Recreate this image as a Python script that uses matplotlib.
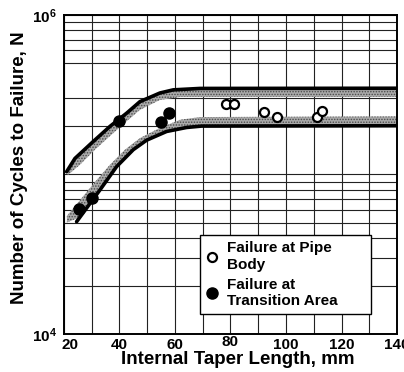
import matplotlib.pyplot as plt
from matplotlib.transforms import ScaledTranslation

plt.rcParams['font.family'] = ['Liberation Sans', 'DejaVu Sans']
plt.rcParams['font.weight'] = 'bold'
plt.rcParams['axes.labelweight'] = 'bold'
plt.rcParams['mathtext.default'] = 'regular'
plt.rcParams['hatch.linewidth'] = 0.7

# failure at pipe body (open circles)
pipe_x = [78.4, 81.4, 92.2, 96.9, 111.1, 113.1]
pipe_n = [2.75e5, 2.75e5, 2.48e5, 2.28e5, 2.30e5, 2.50e5]

# failure at transition area (filled circles)
trans_x = [25.4, 30.2, 39.9, 55.0, 57.8]
trans_n = [6.1e4, 7.1e4, 2.17e5, 2.12e5, 2.42e5]

# upper bound curve
upper_x = [21.0, 24.0, 30.6, 36.6, 42.6, 47.4, 54.6, 59.4, 69.0, 140]
upper_n = [1.04e5, 1.26e5, 1.61e5, 2.0e5, 2.42e5, 2.86e5, 3.24e5, 3.39e5, 3.46e5, 3.47e5]

# lower bound curve
lower_x = [24.6, 33.0, 39.0, 45.0, 49.8, 57.0, 64.2, 69.6, 140]
lower_n = [5.06e4, 8.0e4, 1.12e5, 1.43e5, 1.64e5, 1.86e5, 1.97e5, 2.01e5, 2.02e5]

# shaded scatter bands
uband_x = [21.4, 25.8, 31.2, 36.6, 42.7, 47.4, 54.6, 61.8, 140]
uband_lo = [9.9e4, 1.15e5, 1.43e5, 1.74e5, 2.16e5, 2.54e5, 2.93e5, 3.06e5, 3.06e5]
uband_hi = [1.06e5, 1.36e5, 1.65e5, 2.0e5, 2.43e5, 2.86e5, 3.24e5, 3.42e5, 3.47e5]

lband_x = [21.1, 25.8, 31.2, 36.6, 42.0, 47.4, 54.6, 61.8, 69.0, 140]
lband_lo = [5.0e4, 5.4e4, 7.2e4, 9.8e4, 1.26e5, 1.58e5, 1.80e5, 1.93e5, 2.01e5, 2.02e5]
lband_hi = [5.5e4, 6.9e4, 8.97e4, 1.15e5, 1.43e5, 1.69e5, 1.96e5, 2.2e5, 2.29e5, 2.31e5]

x_ticks = list(range(20, 141, 10))
x_labels = ['20', '', '40', '', '60', '', '80', '', '100', '', '120', '', '140']
y_minor = [2e4, 3e4, 4e4, 5e4, 6e4, 7e4, 8e4, 9e4,
           2e5, 3e5, 5e5, 6e5, 7e5, 8e5, 9e5]

fig = plt.figure(figsize=(4.04, 3.72), dpi=100)
ax = fig.add_axes([0.158, 0.102, 0.825, 0.858])

ax.fill_between(uband_x, uband_lo, uband_hi, facecolor='#aaaaaa',
                hatch='......', edgecolor='#4a4a4a', linewidth=0, zorder=1)
ax.fill_between(lband_x, lband_lo, lband_hi, facecolor='#aaaaaa',
                hatch='......', edgecolor='#4a4a4a', linewidth=0, zorder=1)

ax.plot(upper_x, upper_n, color='black', lw=2.6, solid_capstyle='round', zorder=2)
ax.plot(lower_x, lower_n, color='black', lw=2.6, solid_capstyle='round', zorder=2)

ax.plot(pipe_x, pipe_n, 'o', ms=6.5, mfc='white', mec='black', mew=1.6,
        zorder=3, label='Failure at Pipe\nBody')
ax.plot(trans_x, trans_n, 'o', ms=8, color='black', zorder=3,
        label='Failure at\nTransition Area')

ax.set_yscale('log')
ax.set_xlim(20, 140)
ax.set_ylim(1e4, 1e6)

ax.set_xticks(x_ticks)
ax.set_xticklabels(x_labels)
ax.set_yticks([1e4, 1e5, 1e6])
ax.set_yticklabels(['10$^4$', '', '10$^6$'])
ax.set_yticks(y_minor, minor=True)
ax.set_yticklabels([], minor=True)
ax.tick_params(which='both', length=0, labelsize=11, pad=3)
ax.tick_params(axis='y', pad=5)

ax.grid(True, which='both', color='#222222', lw=0.8)
ax.set_axisbelow(True)
for s in ax.spines.values():
    s.set_linewidth(1.4)

# small offsets of a few tick labels, as in the original
xl = ax.get_xticklabels()
xl[0].set_transform(xl[0].get_transform() + ScaledTranslation(6 / 100, 0, fig.dpi_scale_trans))
xl[6].set_transform(xl[6].get_transform() + ScaledTranslation(0, 3 / 100, fig.dpi_scale_trans))

ax.set_xlabel('Internal Taper Length, mm', fontsize=13.5)
ax.set_ylabel('Number of Cycles to Failure, N', fontsize=13.5)
ax.xaxis.set_label_coords(0.521, -0.052)
ax.yaxis.set_label_coords(-0.108, 0.52)

leg = ax.legend(loc='lower left', bbox_to_anchor=(0.408, 0.063, 0.514, 0.247),
                mode='expand', borderaxespad=0,
                fontsize=11, frameon=True, fancybox=False, framealpha=1,
                edgecolor='black', handlelength=0.8, handletextpad=0.6,
                labelspacing=0.4, borderpad=0.4)
leg.get_frame().set_linewidth(1.0)
leg.set_zorder(5)

fig.savefig('out.png', dpi=100)
